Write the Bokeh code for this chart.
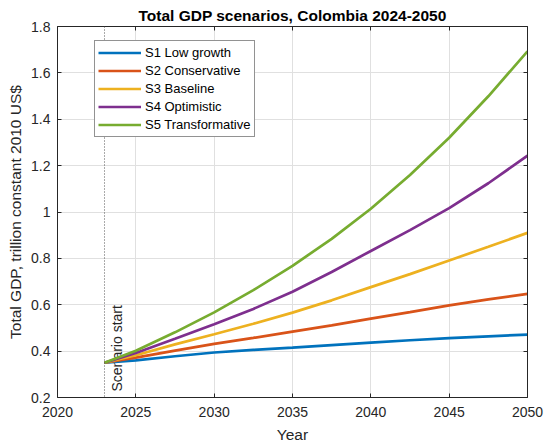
import math
from bokeh.plotting import figure
from bokeh.models import (Range1d, LinearAxis, FixedTicker, Span, Legend, LegendItem,
                          CustomJSTickFormatter)
from bokeh.core.properties import value
from bokeh.embed import file_html
from bokeh.resources import INLINE

# ---------------- data ----------------
title_text = "Total GDP scenarios, Colombia 2024-2050"
x_label = "Year"
y_label = "Total GDP, trillion constant 2010 US$"
scenario_start = 2023
scenario_label = "Scenario start"

years = [2023, 2025, 2027.5, 2030, 2032.5, 2035, 2037.5, 2040, 2042.5, 2045, 2047.5, 2050]
s1_low = [0.350, 0.360, 0.378, 0.394, 0.405, 0.415, 0.426, 0.437, 0.447, 0.456, 0.464, 0.471]
s2_conservative = [0.350, 0.372, 0.402, 0.431, 0.457, 0.484, 0.511, 0.540, 0.568, 0.597, 0.623, 0.647]
s3_baseline = [0.350, 0.382, 0.429, 0.473, 0.518, 0.566, 0.619, 0.676, 0.732, 0.791, 0.850, 0.910]
s4_optimistic = [0.350, 0.392, 0.453, 0.516, 0.582, 0.656, 0.741, 0.832, 0.922, 1.017, 1.124, 1.243]
s5_transformative = [0.350, 0.402, 0.481, 0.567, 0.663, 0.768, 0.884, 1.014, 1.160, 1.320, 1.499, 1.693]

series_names = ["S1 Low growth", "S2 Conservative", "S3 Baseline", "S4 Optimistic", "S5 Transformative"]
series_values = [s1_low, s2_conservative, s3_baseline, s4_optimistic, s5_transformative]
series_colors = ["#0072BD", "#D95319", "#EDB120", "#7E2F8E", "#77AC30"]

x_ticks = [2020, 2025, 2030, 2035, 2040, 2045, 2050]
x_tick_labels = ["2020", "2025", "2030", "2035", "2040", "2045", "2050"]
y_ticks = [0.2, 0.4, 0.6, 0.8, 1.0, 1.2, 1.4, 1.6, 1.8]
y_tick_labels = ["0.2", "0.4", "0.6", "0.8", "1", "1.2", "1.4", "1.6", "1.8"]

# ---------------- styling ----------------
FONT = "Liberation Sans"
AX = "#262626"
GRID = "#e0e0e0"

p = figure(width=550, height=446, output_backend="svg", toolbar_location=None,
           x_range=Range1d(x_ticks[0], x_ticks[-1]), y_range=Range1d(y_ticks[0], y_ticks[-1]),
           min_border_left=57, min_border_right=23, min_border_top=26, min_border_bottom=49)
p.outline_line_color = None
p.background_fill_color = "white"
p.border_fill_color = "white"

p.title.text = title_text
p.title.align = "center"
p.title.text_font = FONT
p.title.text_font_size = "15.5px"
p.title.text_font_style = "bold"
p.title.text_color = "black"
p.title.standoff = 5
p.title.offset = 0

def fmt(ticks, labels):
    return CustomJSTickFormatter(args=dict(tvals=ticks, tlabels=labels), code="""
        for (let i = 0; i < tvals.length; i++) {
            if (Math.abs(tvals[i] - tick) < 1e-9) return tlabels[i];
        }
        return '';
    """)

def style_axis(ax, ticks, labels, show_labels=True):
    ax.ticker = FixedTicker(ticks=ticks)
    ax.formatter = fmt(ticks, labels)
    ax.axis_line_color = AX
    ax.axis_line_width = 1
    ax.major_tick_line_color = AX
    ax.major_tick_in = 4
    ax.major_tick_out = 0
    ax.minor_tick_line_color = None
    ax.major_label_text_font = FONT
    ax.major_label_text_color = AX
    if show_labels:
        ax.major_label_text_font_size = "14px"
    else:
        ax.major_label_text_font_size = "0px"
        ax.major_label_standoff = 0

xa = p.xaxis[0]
ya = p.yaxis[0]
style_axis(xa, x_ticks, x_tick_labels)
style_axis(ya, y_ticks, y_tick_labels)
xa.major_label_standoff = 9
ya.major_label_standoff = 7
xa.axis_label = x_label
ya.axis_label = y_label
for ax in (xa, ya):
    ax.axis_label_text_font = FONT
    ax.axis_label_text_font_size = "15.5px"
    ax.axis_label_text_font_style = "normal"
    ax.axis_label_text_color = AX
xa.axis_label_standoff = 6
ya.axis_label_standoff = 4

top_ax = LinearAxis()
right_ax = LinearAxis()
style_axis(top_ax, x_ticks, x_tick_labels, show_labels=False)
style_axis(right_ax, y_ticks, y_tick_labels, show_labels=False)
p.add_layout(top_ax, "above")
p.add_layout(right_ax, "right")

p.xgrid.ticker = FixedTicker(ticks=x_ticks)
p.ygrid.ticker = FixedTicker(ticks=y_ticks)
for g in (p.xgrid, p.ygrid):
    g.grid_line_color = GRID
    g.grid_line_width = 1

# scenario start marker
p.add_layout(Span(location=scenario_start, dimension="height", line_color="#555555",
                  line_width=1, line_dash="1 2"))
p.text(x=[scenario_start], y=[y_ticks[0]], text=[scenario_label], angle=math.pi / 2,
       text_align="left", text_baseline="top", x_offset=4, y_offset=-6,
       text_font=value(FONT), text_font_size="14px", text_color=AX)

items = []
for name, vals, col in zip(series_names, series_values, series_colors):
    r = p.line(years, vals, line_color=col, line_width=2.7)
    items.append(LegendItem(label=name, renderers=[r]))

legend = Legend(items=items, location=(37, 260))
legend.border_line_color = AX
legend.border_line_width = 1
legend.background_fill_color = "white"
legend.background_fill_alpha = 1
legend.label_text_font = FONT
legend.label_text_font_size = "13px"
legend.label_text_color = "black"
legend.glyph_width = 43
legend.glyph_height = 17
legend.label_height = 17
legend.spacing = 1
legend.padding = 3
legend.margin = 0
legend.label_standoff = 4
p.add_layout(legend)

open("out.html", "w").write(file_html(p, INLINE))
